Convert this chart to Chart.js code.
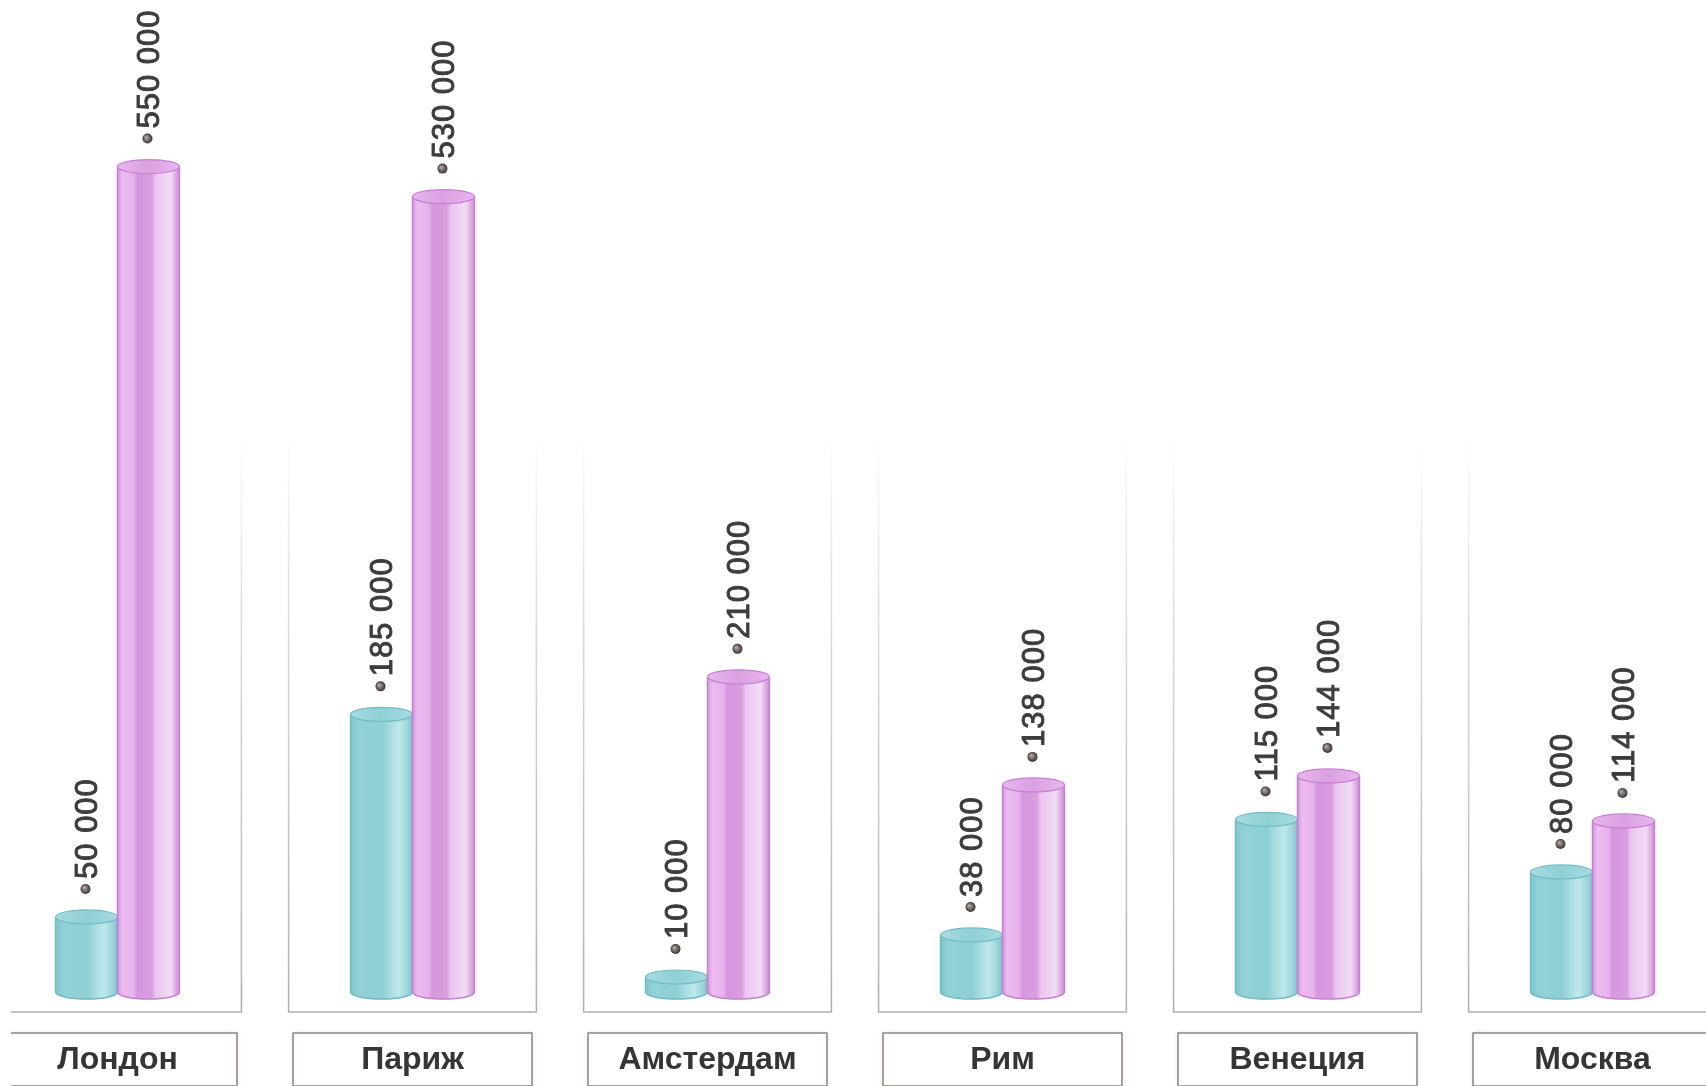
<!DOCTYPE html>
<html><head><meta charset="utf-8">
<script src="https://cdn.jsdelivr.net/npm/chart.js@4.4.1/dist/chart.umd.min.js"></script>
<style>
html,body{margin:0;padding:0;background:#fff;overflow:hidden;width:1706px;height:1086px;}
#wrap{position:absolute;left:-30px;top:0;width:1770px;height:1086px;}
</style></head><body>
<div id="wrap"><canvas id="c"></canvas></div>
<script>
const categories = ['Лондон','Париж','Амстердам','Рим','Венеция','Москва'];
const seriesA = [50000, 185000, 10000, 38000, 115000, 80000];
const seriesB = [550000, 530000, 210000, 138000, 144000, 114000];
const yMax = 661000;

function fmt(v){ return String(v).replace(/\B(?=(\d{3})+(?!\d))/g,' '); }

const palettes = [
  { base:'#8fd0d6', edge:'#72bcc4', cap:'#a6dce0',
    stops:[[0,'#7cc5cc'],[0.12,'#92d2d7'],[0.5,'#8ccfd5'],[0.62,'#a4dbdf'],[0.78,'#bfe8eb'],[0.92,'#9cd6da'],[1,'#7bc3ca']] },
  { base:'#dba0e2', edge:'#c77fd2', cap:'#e8b6ee',
    stops:[[0,'#d596de'],[0.08,'#ebbcef'],[0.26,'#e7b2eb'],[0.32,'#d596de'],[0.55,'#d99ee0'],[0.62,'#ebc6ef'],[0.86,'#f1dcf4'],[1,'#cd8bd7']] }
];

const panelPlugin = {
  id:'panels',
  beforeDatasetsDraw(chart){
    const ctx = chart.ctx, xs = chart.scales.x;
    const W = xs.width / categories.length;
    const pw = W*0.84, bw = W*0.81;
    const top = 430, bottom = 1012;
    ctx.save();
    ctx.beginPath();
    ctx.rect(41, 0, chart.width - 41, chart.height);
    ctx.clip();
    categories.forEach((name,i)=>{
      const cx = xs.getPixelForValue(i);
      const l = cx - pw/2, r = cx + pw/2;
      ctx.save();
      const g = ctx.createLinearGradient(0, top, 0, bottom);
      g.addColorStop(0,'rgba(185,185,185,0)');
      g.addColorStop(0.35,'rgba(185,185,185,0.55)');
      g.addColorStop(1,'rgba(175,175,175,1)');
      ctx.strokeStyle = g; ctx.lineWidth = 1.5;
      ctx.beginPath();
      ctx.moveTo(l, top); ctx.lineTo(l, bottom); ctx.lineTo(r, bottom); ctx.lineTo(r, top);
      ctx.stroke();
      // label box
      const bl = cx - bw/2, bt = 1033, bh = 53;
      ctx.fillStyle = '#fff';
      ctx.shadowColor = 'rgba(200,150,150,0.45)'; ctx.shadowBlur = 4;
      ctx.fillRect(bl, bt, bw, bh);
      ctx.shadowBlur = 0; ctx.shadowColor = 'transparent';
      ctx.strokeStyle = '#8c8686'; ctx.lineWidth = 1.5;
      ctx.strokeRect(bl, bt, bw, bh);
      ctx.fillStyle = '#353535';
      ctx.font = 'bold 32px "Liberation Sans", Arial, sans-serif';
      ctx.textAlign = 'center'; ctx.textBaseline = 'middle';
      ctx.fillText(name, cx, bt + 27);
      ctx.restore();
    });
    ctx.restore();
  }
};

const cylPlugin = {
  id:'cyl',
  afterDatasetsDraw(chart){
    const ctx = chart.ctx;
    const ry = 7;
    chart.data.datasets.forEach((ds, di)=>{
      const meta = chart.getDatasetMeta(di);
      const pal = palettes[di];
      meta.data.forEach((el, i)=>{
        const {x, y, base, width} = el.getProps(['x','y','base','width'], true);
        const l = x - width/2, r = x + width/2, rx = width/2;
        ctx.save();
        const g = ctx.createLinearGradient(l, 0, r, 0);
        pal.stops.forEach(s=>g.addColorStop(s[0], s[1]));
        ctx.fillStyle = g;
        ctx.beginPath();
        ctx.moveTo(l, y);
        ctx.lineTo(l, base);
        ctx.ellipse(x, base, rx, ry, 0, Math.PI, 0, true);
        ctx.lineTo(r, y);
        ctx.closePath();
        ctx.fill();
        ctx.strokeStyle = pal.edge; ctx.lineWidth = 1.5;
        ctx.beginPath();
        ctx.moveTo(l, y); ctx.lineTo(l, base);
        ctx.ellipse(x, base, rx, ry, 0, Math.PI, 0, true);
        ctx.lineTo(r, y);
        ctx.stroke();
        // top cap
        ctx.beginPath();
        ctx.ellipse(x, y, rx, ry, 0, 0, Math.PI*2);
        const cg = ctx.createLinearGradient(l, 0, r, 0);
        cg.addColorStop(0, pal.cap); cg.addColorStop(0.5, pal.base); cg.addColorStop(1, pal.cap);
        ctx.fillStyle = cg; ctx.fill();
        ctx.strokeStyle = pal.edge; ctx.lineWidth = 1.2; ctx.stroke();
        // dot + value label
        const dotY = y - ry - 21;
        const rg = ctx.createRadialGradient(x-2.5, dotY-1.5, 0.5, x-1, dotY, 5);
        rg.addColorStop(0,'#b0a8a8'); rg.addColorStop(1,'#3a3232');
        ctx.fillStyle = rg;
        ctx.beginPath(); ctx.arc(x - 1, dotY, 5, 0, Math.PI*2); ctx.fill();
        ctx.translate(x + 2, dotY - 10);
        ctx.rotate(-Math.PI/2);
        ctx.fillStyle = '#3d3d3d';
        ctx.strokeStyle = '#3d3d3d';
        ctx.lineWidth = 0.9;
        ctx.font = '31px "Liberation Sans", Arial, sans-serif';
        ctx.letterSpacing = '1px';
        ctx.textAlign = 'left'; ctx.textBaseline = 'middle';
        const t = fmt(ds.data[i]);
        ctx.fillText(t, 0, 0);
        ctx.strokeText(t, 0, 0);
        ctx.restore();
      });
    });
  }
};

new Chart(document.getElementById('c'), {
  type:'bar',
  data:{
    labels: categories,
    datasets:[
      { label:'A', data: seriesA, backgroundColor: palettes[0].base, borderWidth:0 },
      { label:'B', data: seriesB, backgroundColor: palettes[1].base, borderWidth:0 }
    ]
  },
  options:{
    responsive:true, maintainAspectRatio:false, animation:false,
    categoryPercentage:0.42, barPercentage:1.0,
    layout:{ padding:{ top:0, bottom:94, left:0, right:0 } },
    plugins:{ legend:{display:false}, tooltip:{enabled:false} },
    scales:{
      x:{ display:false, grid:{display:false} },
      y:{ display:false, min:0, max:yMax, grid:{display:false} }
    }
  },
  plugins:[panelPlugin, cylPlugin]
});
</script>
</body></html>
